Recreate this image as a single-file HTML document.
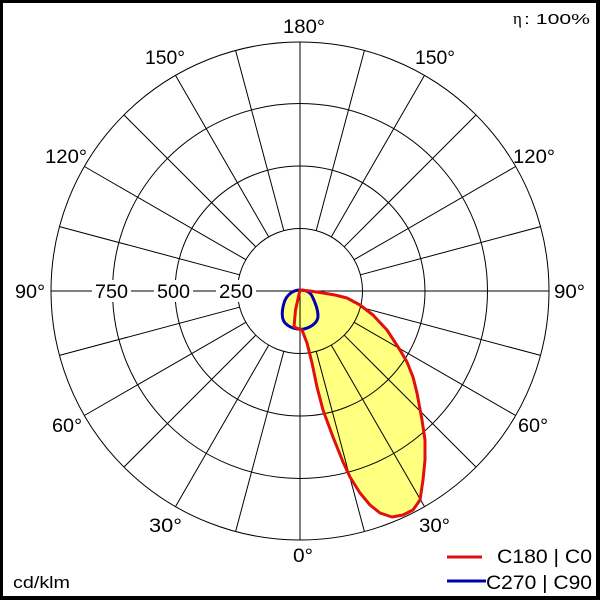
<!DOCTYPE html>
<html><head><meta charset="utf-8"><style>
html,body{margin:0;padding:0;background:#fff;}
svg{display:block;}
text{font-family:"Liberation Sans",Arial,sans-serif;fill:#000;}
</style></head><body>
<svg width="600" height="600" viewBox="0 0 600 600" xmlns="http://www.w3.org/2000/svg">
<rect x="0" y="0" width="600" height="600" fill="#fff"/>
<!-- fills -->
<path d="M300,290 L295.5,310 L294,327 L302,330 L307,343 L312,363 L317,387 L323,410 L333,437 L343,462 L350,477 L360,493 L370,505 L380,513 L392,517 L403,515 L413,510 L420,500 L423,480 L425,460 L425,440 L422,420 L417,393 L413,377 L407,362 L400,350 L387,330 L373,315 L360,305 L347,298 L335,295 L323,293 L310,291 Z" fill="#ffff80"/>
<path d="M300,290 C306,290 310,292 312,296 C315,302 318,310 318,316 C318,322 312,327 304,329 C297,330 290,328 285,323 C281,318 282,310 284,303 C286,296 292,290 300,290 Z" fill="#ffff80"/>
<!-- grid -->
<g fill="none" stroke="#000" stroke-width="1">
<circle cx="300" cy="291" r="62.5"/>
<circle cx="300" cy="291" r="125"/>
<circle cx="300" cy="291" r="187.5"/>
<circle cx="300" cy="291" r="249"/>
<line x1="300" y1="42" x2="300" y2="540"/>
<line x1="51" y1="291" x2="549" y2="291"/>
<g id="rad">
<line x1="316.2" y1="351.4" x2="364.4" y2="531.5"/>
<line x1="331.3" y1="345.1" x2="424.5" y2="506.6"/>
<line x1="344.2" y1="335.2" x2="476.1" y2="467.1"/>
<line x1="354.1" y1="322.3" x2="515.6" y2="415.5"/>
<line x1="360.4" y1="307.2" x2="540.5" y2="355.4"/>
<line x1="360.4" y1="274.8" x2="540.5" y2="226.6"/>
<line x1="354.1" y1="259.7" x2="515.6" y2="166.5"/>
<line x1="344.2" y1="246.8" x2="476.1" y2="114.9"/>
<line x1="331.3" y1="236.9" x2="424.5" y2="75.4"/>
<line x1="316.2" y1="230.6" x2="364.4" y2="50.5"/>
</g>
<use href="#rad" transform="translate(600,0) scale(-1,1)"/>
</g>
<!-- curves -->
<path d="M300,290 C306,290 310,292 312,296 C315,302 318,310 318,316 C318,322 312,327 304,329 C297,330 290,328 285,323 C281,318 282,310 284,303 C286,296 292,290 300,290 Z" fill="none" stroke="#0000b0" stroke-width="3" stroke-linejoin="round"/>
<path d="M300,290 L295.5,310 L294,327 L302,330 L307,343 L312,363 L317,387 L323,410 L333,437 L343,462 L350,477 L360,493 L370,505 L380,513 L392,517 L403,515 L413,510 L420,500 L423,480 L425,460 L425,440 L422,420 L417,393 L413,377 L407,362 L400,350 L387,330 L373,315 L360,305 L347,298 L335,295 L323,293 L310,291 Z" fill="none" stroke="#e01010" stroke-width="3" stroke-linejoin="round"/>
<!-- label backgrounds on horizontal axis -->
<g fill="#fff">
<rect x="92" y="280" width="39" height="22"/>
<rect x="154" y="280" width="39" height="22"/>
<rect x="216" y="280" width="40" height="22"/>
</g>
<!-- labels -->
<g font-size="19">
<text x="283" y="33" textLength="42" lengthAdjust="spacingAndGlyphs">180°</text>
<text x="145" y="64" textLength="40" lengthAdjust="spacingAndGlyphs">150°</text>
<text x="415" y="64" textLength="40" lengthAdjust="spacingAndGlyphs">150°</text>
<text x="45" y="163" textLength="42" lengthAdjust="spacingAndGlyphs">120°</text>
<text x="513" y="163" textLength="42" lengthAdjust="spacingAndGlyphs">120°</text>
<text x="15" y="298" textLength="30" lengthAdjust="spacingAndGlyphs">90°</text>
<text x="554" y="298" textLength="31" lengthAdjust="spacingAndGlyphs">90°</text>
<text x="52" y="432" textLength="30" lengthAdjust="spacingAndGlyphs">60°</text>
<text x="518" y="432" textLength="30" lengthAdjust="spacingAndGlyphs">60°</text>
<text x="149" y="532" textLength="33" lengthAdjust="spacingAndGlyphs">30°</text>
<text x="419" y="532" textLength="31" lengthAdjust="spacingAndGlyphs">30°</text>
<text x="293" y="562" textLength="20" lengthAdjust="spacingAndGlyphs">0°</text>
<text x="95" y="298" textLength="33" lengthAdjust="spacingAndGlyphs">750</text>
<text x="157" y="298" textLength="33" lengthAdjust="spacingAndGlyphs">500</text>
<text x="219" y="298" textLength="34" lengthAdjust="spacingAndGlyphs">250</text>
<text x="497" y="563" textLength="95" lengthAdjust="spacingAndGlyphs">C180 | C0</text>
<text x="486" y="589" textLength="106" lengthAdjust="spacingAndGlyphs">C270 | C90</text>
</g>
<text x="513" y="24" font-size="17" style="font-family:'Liberation Serif',serif">η</text>
<text x="524" y="24" font-size="15" textLength="66" lengthAdjust="spacingAndGlyphs">: 100%</text>
<text x="13" y="588" font-size="17" textLength="57" lengthAdjust="spacingAndGlyphs">cd/klm</text>
<!-- legend lines -->
<line x1="447" y1="557" x2="482" y2="557" stroke="#e01010" stroke-width="3"/>
<line x1="447" y1="581" x2="486" y2="581" stroke="#0000b0" stroke-width="3"/>
<!-- border -->
<rect x="0" y="0" width="600" height="3" fill="#000"/>
<rect x="0" y="0" width="3" height="600" fill="#000"/>
<rect x="596" y="0" width="4" height="600" fill="#000"/>
<rect x="0" y="596" width="600" height="4" fill="#000"/>
</svg>
</body></html>
